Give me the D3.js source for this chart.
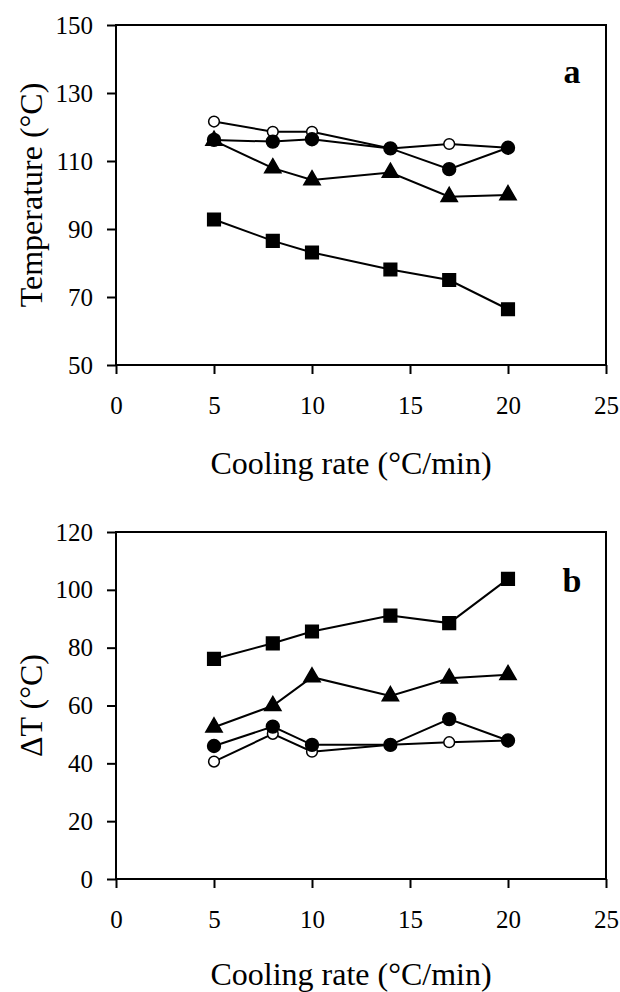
<!DOCTYPE html>
<html>
<head>
<meta charset="utf-8">
<script src="https://cdn.jsdelivr.net/npm/d3@7"></script>
<style>
  body { margin: 0; background: #fff; }
  text { font-family: 'Liberation Serif', 'Times New Roman', serif; fill: #000; }
</style>
</head>
<body>
<script>
var width  = 620
var height = 992
var margin = { left: 116, right: 14 }

// cooling rates (°C/min)
var rates  = [5, 8, 10, 14, 17, 20]
var xTicks = [0, 5, 10, 15, 20, 25]

// panel a : temperature (°C)
var aTicks    = [50, 70, 90, 110, 130, 150]
var aSquare   = [92.8, 86.5, 83.1, 78.1, 75.0, 66.4]
var aTriangle = [116.0, 107.9, 104.4, 106.6, 99.5, 100.0]
var aOpen     = [121.6, 118.6, 118.6, 113.7, 115.0, 113.9]
var aFilled   = [116.2, 115.7, 116.4, 113.7, 107.6, 113.9]

// panel b : delta T (°C)
var bTicks    = [0, 20, 40, 60, 80, 100, 120]
var bSquare   = [76.1, 81.5, 85.6, 91.1, 88.5, 103.8]
var bTriangle = [52.5, 59.9, 69.8, 63.3, 69.4, 70.6]
var bOpen     = [40.6, 50.2, 44.0, 46.4, 47.3, 47.9]
var bFilled   = [46.0, 52.7, 46.4, 46.4, 55.3, 47.9]

var svg = d3.select('body')
  .append('svg')
  .attr('width', width)
  .attr('height', height)

var xScale = d3.scaleLinear()
  .domain([0, 25])
  .range([margin.left, width - margin.right])

function drawPanel(p) {
  var yScale = d3.scaleLinear()
    .domain(d3.extent(p.ticks))
    .range([p.bottom, p.top])

  var g = svg.append('g')

  // frame
  g.append('rect')
    .attr('x', xScale(0))
    .attr('y', p.top)
    .attr('width', xScale(25) - xScale(0))
    .attr('height', p.bottom - p.top)
    .attr('fill', 'none')
    .attr('stroke', '#000')
    .attr('stroke-width', 2)

  var xAxis = d3.axisBottom(xScale)
    .tickValues(xTicks)
    .tickSize(9)
    .tickSizeOuter(0)
    .tickPadding(22)

  var yAxis = d3.axisLeft(yScale)
    .tickValues(p.ticks)
    .tickSize(9)
    .tickSizeOuter(0)
    .tickPadding(14)

  g.append('g')
    .attr('transform', 'translate(' + [0, p.bottom] + ')')
    .call(xAxis)
    .call(s => s.select('.domain').remove())
    .call(s => s.selectAll('line').attr('stroke-width', 2))
    .call(s => s.selectAll('text').attr('font-size', 25).attr('font-family', null))

  g.append('g')
    .attr('transform', 'translate(' + [margin.left, 0] + ')')
    .call(yAxis)
    .call(s => s.select('.domain').remove())
    .call(s => s.selectAll('line').attr('stroke-width', 2))
    .call(s => s.selectAll('text').attr('font-size', 25).attr('font-family', null))

  var line = d3.line()
    .x((d, i) => xScale(rates[i]))
    .y(d => yScale(d))

  var series = [
    { values: p.square,   symbol: d3.symbolSquare,   size: 160, fill: '#000' },
    { values: p.triangle, symbol: d3.symbolTriangle, size: 115, fill: '#000' },
    { values: p.open,     symbol: d3.symbolCircle,   size: 90,  fill: '#fff' },
    { values: p.filled,   symbol: d3.symbolCircle,   size: 130, fill: '#000' }
  ]

  series.forEach(s => {
    g.append('path')
      .datum(s.values)
      .attr('d', line)
      .attr('fill', 'none')
      .attr('stroke', '#000')
      .attr('stroke-width', 2)
  })

  series.forEach(s => {
    g.selectAll(null)
      .data(s.values)
      .enter()
      .append('path')
      .attr('transform', (d, i) => 'translate(' + [xScale(rates[i]), yScale(d)] + ')')
      .attr('d', d3.symbol().type(s.symbol).size(s.size))
      .attr('fill', s.fill)
      .attr('stroke', '#000')
      .attr('stroke-width', 1.5)
  })

  // panel letter
  g.append('text')
    .attr('x', 572)
    .attr('y', p.top + p.letterDy)
    .attr('text-anchor', 'middle')
    .attr('font-size', 34)
    .attr('font-weight', 'bold')
    .text(p.letter)

  // axis titles
  g.append('text')
    .attr('x', 351)
    .attr('y', p.titleY)
    .attr('text-anchor', 'middle')
    .attr('font-size', 32)
    .text('Cooling rate (°C/min)')

  g.append('text')
    .attr('transform', 'translate(' + [42, (p.top + p.bottom) / 2] + ') rotate(-90)')
    .attr('text-anchor', 'middle')
    .attr('font-size', 32)
    .text(p.yTitle)
}

drawPanel({
  top: 25, bottom: 365, ticks: aTicks,
  square: aSquare, triangle: aTriangle, open: aOpen, filled: aFilled,
  letter: 'a', letterDy: 58, titleY: 474, yTitle: 'Temperature (°C)'
})

drawPanel({
  top: 532, bottom: 879, ticks: bTicks,
  square: bSquare, triangle: bTriangle, open: bOpen, filled: bFilled,
  letter: 'b', letterDy: 60, titleY: 985, yTitle: 'ΔT (°C)'
})
</script>
</body>
</html>
